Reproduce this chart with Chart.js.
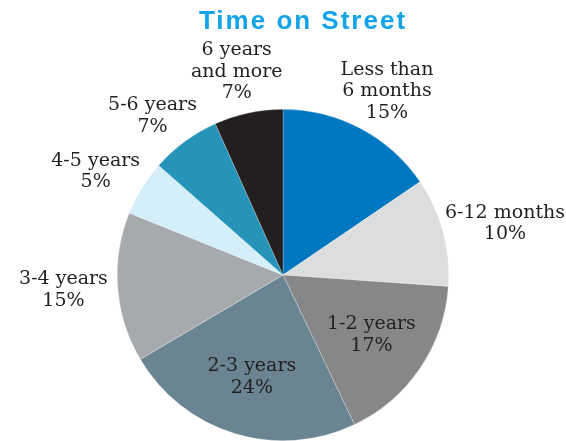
<!DOCTYPE html>
<html>
<head>
<meta charset="utf-8">
<script src="https://cdn.jsdelivr.net/npm/chart.js@4"></script>
<style>
html,body{margin:0;padding:0;background:#fff;}
#wrap{width:566px;height:441px;position:relative;}
</style>
</head>
<body>
<div id="wrap"><canvas id="c" width="566" height="441"></canvas></div>
<script>
const title = 'Time on Street';
const categories = ['Less than\n6 months', '6-12 months', '1-2 years', '2-3 years', '3-4 years', '4-5 years', '5-6 years', '6 years\nand more'];
// slice sizes as drawn (in percent)
const values = [15.5, 10.6, 16.8, 23.6, 14.6, 5.4, 6.8, 6.7];
// percentages as printed in the labels
const labelPercents = ['15%', '10%', '17%', '24%', '15%', '5%', '7%', '7%'];
const colors = ['#0078c1', '#dcdddf', '#868789', '#6b8491', '#a6aaad', '#d4eefa', '#2694b8', '#231f20'];

const labelPlugin = {
  id: 'sliceLabels',
  afterDatasetsDraw(chart) {
    const ctx = chart.ctx;
    const meta = chart.getDatasetMeta(0);
    ctx.save();
    ctx.font = '19px "DejaVu Serif"';
    ctx.fillStyle = '#231f20';
    ctx.textAlign = 'center';
    ctx.textBaseline = 'middle';
    const lh = 21.5;
    meta.data.forEach((arc, i) => {
      const p = arc.getProps(['x', 'y', 'startAngle', 'endAngle', 'outerRadius'], true);
      const mid = (p.startAngle + p.endAngle) / 2;
      const lines = categories[i].split('\n').concat([labelPercents[i]]);
      const w = Math.max(...lines.map(l => ctx.measureText(l).width));
      const h = lines.length * lh;
      let cx, cy;
      const dx = Math.cos(mid), dy = Math.sin(mid);
      if (values[i] >= 16) {
        cx = p.x + dx * p.outerRadius * 0.645;
        cy = p.y + dy * p.outerRadius * 0.645;
      } else {
        const r = p.outerRadius + 10;
        cx = p.x + dx * r + dx * w / 2;
        cy = p.y + dy * r + dy * h / 2;
      }
      // keep labels inside the canvas
      cx = Math.min(cx, chart.width - 1 - w / 2);
      cx = Math.max(cx, 1 + w / 2);
      lines.forEach((l, k) => {
        ctx.fillText(l, cx, cy - h / 2 + lh / 2 + k * lh);
      });
    });
    ctx.restore();
  }
};

const titlePlugin = {
  id: 'titleText',
  afterDraw(chart) {
    const ctx = chart.ctx;
    ctx.save();
    ctx.font = 'bold 26px "Liberation Sans", Arial, sans-serif';
    ctx.letterSpacing = '2px';
    ctx.fillStyle = '#13a4e8';
    ctx.textAlign = 'center';
    ctx.textBaseline = 'alphabetic';
    ctx.fillText(title, 303, 29);
    ctx.restore();
  }
};

new Chart(document.getElementById('c'), {
  type: 'pie',
  data: {
    labels: categories,
    datasets: [{
      data: values,
      backgroundColor: colors,
      borderWidth: 0.5,
      borderColor: 'rgba(255,255,255,0.5)'
    }]
  },
  options: {
    responsive: false,
    animation: false,
    layout: { padding: { top: 109, bottom: 0, left: 0, right: 0 } },
    plugins: {
      legend: { display: false },
      tooltip: { enabled: false },
      title: { display: false }
    }
  },
  plugins: [labelPlugin, titlePlugin]
});
</script>
</body>
</html>
